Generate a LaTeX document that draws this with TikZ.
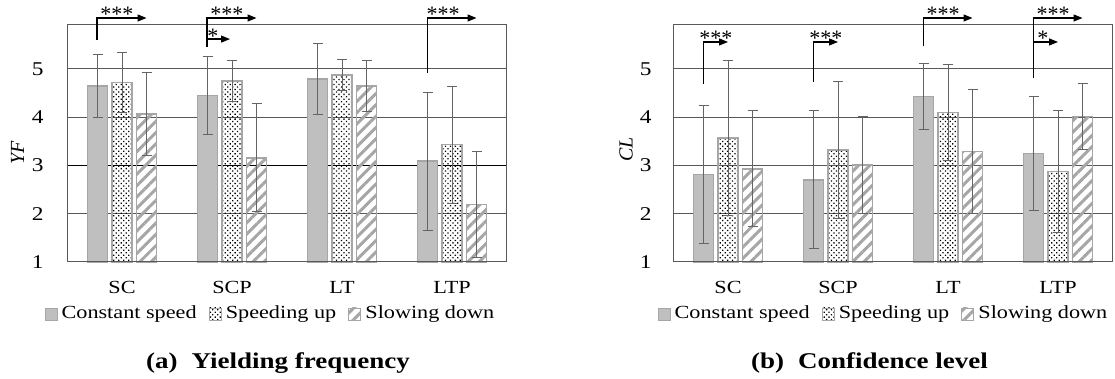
\documentclass[tikz,border=0pt]{standalone}
\usepackage{fontspec}
\setmainfont{Liberation Serif}[FakeStretch=1.2]
\newfontfamily\axisfont{Liberation Serif}
\usepackage{tikz}
\usetikzlibrary{positioning, arrows.meta, patterns.meta}

\definecolor{barfill}{RGB}{191,191,191}
\definecolor{barline}{RGB}{166,166,166}
\definecolor{gridc}{RGB}{89,89,89}
\definecolor{errc}{RGB}{100,100,100}

\begin{document}
\begin{tikzpicture}[x=1pt,y=1pt,font=\fontsize{18.5}{20}\selectfont,
  grid/.style={gridc, line width=1pt},
  const/.style={fill=barfill, draw=barline, line width=1.5pt},
  speed/.style={pattern={Dots[angle=45,distance=3.5pt,radius=.9pt]}, pattern color=black, draw=barline, line width=1.5pt},
  slow/.style={pattern={Lines[angle=45,distance=8pt,line width=3pt]}, pattern color=barline, draw=barline, line width=1.5pt},
  errbar/.style={errc, line width=1pt},
  sig/.style={black, line width=1.2pt, -{Triangle[length=9pt,width=7pt]}},
  stars/.style={font=\axisfont\fontsize{22}{22}\selectfont, inner sep=0pt, anchor=base, yshift=-4pt},
  tick/.style={anchor=east, font=\fontsize{19.5}{20}\selectfont},
  legsq/.style={minimum size=12pt, inner sep=0pt, line width=.8pt},
  legtxt/.style={inner sep=0pt},
  capt/.style={font=\bfseries\fontsize{22.5}{23}\selectfont, anchor=base west, inner sep=0pt},
  ylab/.style={rotate=90, font=\axisfont\itshape\fontsize{20}{20}\selectfont}]
\useasboundingbox (0,0) rectangle (1115,379);

% Yielding frequency
\begin{scope}[shift={(67pt,68.75pt)}, y=48.25pt]
\foreach \v in {2,...,5} \draw[grid] (0,\v) -- (439,\v);
\draw[black, line width=1.6pt] (0,3) -- (439,3);
\foreach \k/\mA/\sA/\mB/\sB/\mC/\sC in {1/4.65/.66/4.72/.63/4.07/.86, 2/4.45/.80/4.75/.43/3.16/1.12,
    3/4.79/.73/4.88/.32/4.65/.53, 4/3.09/1.43/3.43/1.21/2.19/1.09}{
  \pgfmathsetmacro\cx{110*\k-55}
  \draw[const] (\cx-34.5,1) rectangle (\cx-14.5,\mA);
  \draw[speed] (\cx-10,1) rectangle (\cx+10,\mB);
  \draw[slow] (\cx+14.5,1) rectangle (\cx+34.5,\mC);
  \foreach \dx/\mv/\sv in {-24.5/\mA/\sA, 0/\mB/\sB, 24.5/\mC/\sC}
    \draw[errbar] (\cx+\dx,\mv-\sv) -- (\cx+\dx,\mv+\sv)
      (\cx+\dx-5,\mv-\sv) -- (\cx+\dx+5,\mv-\sv)
      (\cx+\dx-5,\mv+\sv) -- (\cx+\dx+5,\mv+\sv);
}
\draw[grid] (0,1) rectangle (439,5.912);
\foreach \v in {1,...,5} \node[tick] (tA\v) at (-20,\v) {\v};
\foreach \k/\lab in {1/SC,2/SCP,3/LT,4/LTP} \node[anchor=base] (catA\k) at (110*\k-55,0.34) {\lab};
\node[ylab] (yA) at (-49.5,3.27) {YF};

\coordinate (sA1) at (30,5.60);
\coordinate (eA1) at (79.5,6.057);
\coordinate (sA2) at (140,5.455);
\coordinate (eA2) at (189.5,6.057);
\coordinate (fA2) at (163,5.62);
\coordinate (sA3) at (360.5,4.92);
\coordinate (eA3) at (409.5,6.057);
\draw[sig] (sA1) |- (eA1) node[stars, pos=.7] {***};
\draw[sig] (sA2) |- (eA2) node[stars, pos=.7] {***};
\draw[sig] (sA2) |- (fA2) node[stars, pos=.63] {*};
\draw[sig] (sA3) |- (eA3) node[stars, pos=.66] {***};
\end{scope}

% Confidence level
\begin{scope}[shift={(673pt,68.75pt)}, y=48.25pt]
\foreach \v in {2,...,5} \draw[grid] (0,\v) -- (439,\v);
\foreach \k/\mA/\sA/\mB/\sB/\mC/\sC in {1/2.81/1.43/3.57/1.60/2.93/1.20, 2/2.70/1.43/3.32/1.42/3.01/1.00,
    3/4.43/.69/4.10/1.00/3.29/1.28, 4/3.25/1.18/2.88/1.27/4.02/.68}{
  \pgfmathsetmacro\cx{110*\k-55}
  \draw[const] (\cx-34.5,1) rectangle (\cx-14.5,\mA);
  \draw[speed] (\cx-10,1) rectangle (\cx+10,\mB);
  \draw[slow] (\cx+14.5,1) rectangle (\cx+34.5,\mC);
  \foreach \dx/\mv/\sv in {-24.5/\mA/\sA, 0/\mB/\sB, 24.5/\mC/\sC}
    \draw[errbar] (\cx+\dx,\mv-\sv) -- (\cx+\dx,\mv+\sv)
      (\cx+\dx-5,\mv-\sv) -- (\cx+\dx+5,\mv-\sv)
      (\cx+\dx-5,\mv+\sv) -- (\cx+\dx+5,\mv+\sv);
}
\draw[grid] (0,1) rectangle (439,5.912);
\foreach \v in {1,...,5} \node[tick] (tB\v) at (-18,\v) {\v};
\foreach \k/\lab in {1/SC,2/SCP,3/LT,4/LTP} \node[anchor=base] (catB\k) at (110*\k-55,0.34) {\lab};
\node[ylab] (yB) at (-47,3.33) {CL};

\coordinate (sB1) at (30.5,4.69);
\coordinate (eB1) at (55,5.56);
\coordinate (sB2) at (140.5,4.73);
\coordinate (eB2) at (165,5.56);
\coordinate (sB3) at (250.5,5.47);
\coordinate (eB3) at (299.5,6.057);
\coordinate (sB4) at (360.5,4.81);
\coordinate (eB4) at (409.5,6.057);
\coordinate (fB4) at (385,5.56);
\draw[sig] (sB1) |- (eB1) node[stars, pos=.75] {***};
\draw[sig] (sB2) |- (eB2) node[stars, pos=.75] {***};
\draw[sig] (sB3) |- (eB3) node[stars, pos=.7] {***};
\draw[sig] (sB4) |- (eB4) node[stars, pos=.7] {***};
\draw[sig] (sB4) |- (fB4) node[stars, pos=.69] {*};
\end{scope}

% legends
\node[const, legsq] (lgA1) at (51,65) {};
\node[legtxt, right=4pt of lgA1] (ltA1) {Constant speed};
\node[speed, legsq, right=12pt of ltA1] (lgA2) {};
\node[legtxt, right=4pt of lgA2] (ltA2) {Speeding up};
\node[slow, legsq, right=12pt of ltA2] (lgA3) {};
\node[legtxt, right=4pt of lgA3] (ltA3) {Slowing down};

\node[const, legsq] (lgB1) at (664,65) {};
\node[legtxt, right=4pt of lgB1] (ltB1) {Constant speed};
\node[speed, legsq, right=12pt of ltB1] (lgB2) {};
\node[legtxt, right=4pt of lgB2] (ltB2) {Speeding up};
\node[slow, legsq, right=12pt of ltB2] (lgB3) {};
\node[legtxt, right=4pt of lgB3] (ltB3) {Slowing down};

\node[capt] (capA) at (146,10) {(a)\hspace{14pt}Yielding frequency};
\node[capt] (capB) at (751,10) {(b)\hspace{14pt}Confidence level};
\end{tikzpicture}
\end{document}
